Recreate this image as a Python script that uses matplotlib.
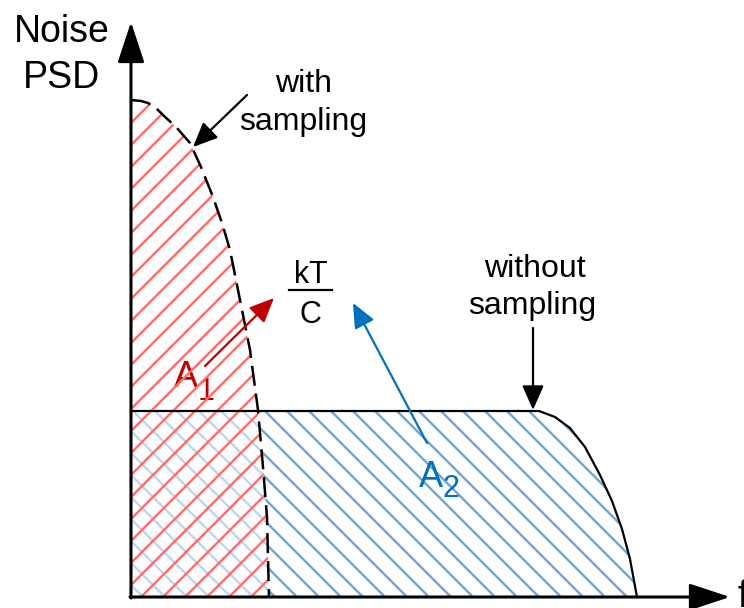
import numpy as np
import matplotlib
matplotlib.use('Agg')
import matplotlib.pyplot as plt
from matplotlib.patches import Polygon
from matplotlib.collections import LineCollection

plt.rcParams['font.family'] = ['Liberation Sans', 'DejaVu Sans']

# кривые (f, PSD) в условных единицах
f_with = [0, 10, 17, 25, 32, 45, 59, 70, 82, 91, 99, 109, 119, 127, 132, 136, 138]
psd_with = [497, 496, 494, 489, 482, 470, 454, 430, 400, 374, 347, 297, 247, 187, 130, 80, 0]

f_without = [0, 408, 424, 439, 454, 469, 481, 491, 499, 506]
psd_without = [186, 186, 180, 169, 150, 122, 96, 68, 38, 0]
kT_over_C = 186

RED = '#ff6b6b'
RED_DARK = '#c00000'
BLUE = '#6aa6da'
BLUE_LIGHT = '#bcd8ee'
BLUE_DARK = '#0070c0'


def hatch(ax, verts, sign, spacing, color, z, lw=1.7):
    # штриховка вручную, обрезанная по многоугольнику
    patch = Polygon(verts, closed=True, facecolor='none', edgecolor='none')
    ax.add_patch(patch)
    segs = [[(-300, -300 * sign + c), (900, 900 * sign + c)]
            for c in np.arange(-1000, 1600, spacing)]
    lc = LineCollection(segs, colors=color, linewidths=lw, zorder=z)
    ax.add_collection(lc)
    lc.set_clip_path(patch)


fig = plt.figure(figsize=(7.44, 6.08), dpi=100)
ax = fig.add_axes([0, 0, 1, 1])
ax.set_xlim(-131, 613)
ax.set_ylim(-11, 597)
ax.axis('off')

red_poly = [(0, 0)] + list(zip(f_with, psd_with))
blue_poly = [(0, 0)] + list(zip(f_without, psd_without))
over_poly = [(0, 0)] + list(zip(f_with, np.minimum(psd_with, kT_over_C)))

hatch(ax, blue_poly, -1, 22, BLUE, 1)
ax.add_patch(Polygon(red_poly, closed=True, facecolor='white',
                     edgecolor='none', zorder=2))
hatch(ax, over_poly, -1, 22, BLUE_LIGHT, 3)
hatch(ax, red_poly, 1, 22, RED, 4)

# кривые
ax.plot(f_without, psd_without, color='black', lw=1.6, zorder=5,
        solid_joinstyle='round')
ax.plot(f_with, psd_with, color='black', lw=1.8, dashes=(8, 3.2), zorder=5)

# оси
axis_style = dict(arrowstyle='-|>,head_length=1.0,head_width=0.33',
                  color='black', lw=2.2, mutation_scale=25,
                  shrinkA=0, shrinkB=0)
ax.annotate('', xy=(0, 575), xytext=(0, -1), arrowprops=axis_style, zorder=6)
ax.annotate('', xy=(599, 0), xytext=(-1, 0), arrowprops=axis_style, zorder=6)

ax.text(-69, 555, 'Noise', fontsize=27, ha='center', va='baseline')
ax.text(-69, 509, 'PSD', fontsize=27, ha='center', va='baseline')
ax.text(606, 0, 'f', fontsize=27, ha='left', va='center')

# подписи со стрелками
arr = dict(arrowstyle='-|>,head_length=0.75,head_width=0.33',
           lw=1.6, mutation_scale=20, shrinkA=0, shrinkB=0)
ax.text(173, 505, 'with', fontsize=23, ha='center', va='baseline')
ax.text(172, 467, 'sampling', fontsize=23, ha='center', va='baseline')
ax.annotate('', xy=(62, 450), xytext=(116, 502),
            arrowprops=dict(color='black', **arr), zorder=7)

ax.text(404, 320, 'without', fontsize=23, ha='center', va='baseline')
ax.text(401, 283, 'sampling', fontsize=23, ha='center', va='baseline')
ax.annotate('', xy=(402, 187), xytext=(402, 269),
            arrowprops=dict(color='black', **arr), zorder=7)

ax.text(179.5, 314, 'kT', fontsize=22, ha='center', va='baseline')
ax.text(179, 274, 'C', fontsize=22, ha='center', va='baseline')
ax.plot([158, 201], [307, 307], color='black', lw=1.6)

ax.text(43, 210, 'A', fontsize=26, ha='left', va='baseline', color=RED_DARK)
ax.text(67, 197, '1', fontsize=22, ha='left', va='baseline', color=RED_DARK)
ax.annotate('', xy=(143, 299), xytext=(74, 231),
            arrowprops=dict(color=RED_DARK, **arr), zorder=7)

ax.text(288, 110, 'A', fontsize=26, ha='left', va='baseline', color=BLUE_DARK)
ax.text(312, 100, '2', fontsize=22, ha='left', va='baseline', color=BLUE_DARK)
ax.annotate('', xy=(222, 294), xytext=(296, 154),
            arrowprops=dict(color=BLUE_DARK, **arr), zorder=7)

plt.savefig('out.png', dpi=100)
